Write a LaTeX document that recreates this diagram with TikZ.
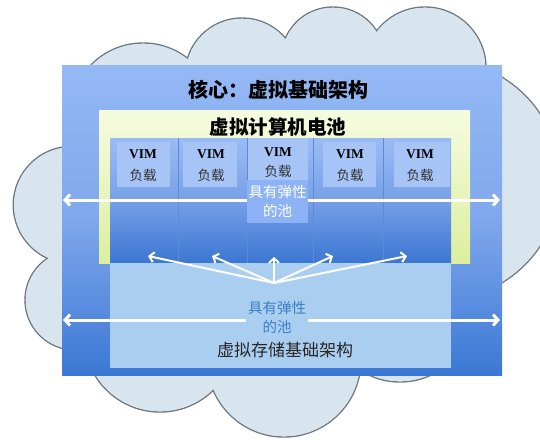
\documentclass[tikz,border=0pt]{standalone}
\usepackage{fontspec}
\setmainfont{Liberation Serif}
\newfontfamily\cjk{Noto Sans CJK SC}
\usetikzlibrary{arrows.meta}
\definecolor{cloudfill}{HTML}{D8E5EF}
\definecolor{cloudline}{HTML}{6E767E}
\definecolor{coretop}{HTML}{95B9F5}
\definecolor{coremid}{HTML}{7FA7EC}
\definecolor{corebot}{HTML}{3B78D4}
\definecolor{yeltop}{HTML}{F6FBE0}
\definecolor{yelbot}{HTML}{DCEF9E}
\definecolor{comptop}{HTML}{9BBBF5}
\definecolor{compmid}{HTML}{77A0E8}
\definecolor{compbot}{HTML}{3C76D1}
\definecolor{vimbox}{HTML}{A6C4F6}
\definecolor{poolbox}{HTML}{8EB2F6}
\definecolor{storfill}{HTML}{AACEEF}
\definecolor{pooltext}{HTML}{3B80C6}
\definecolor{divcol}{HTML}{5F8AD6}
\begin{document}
\begin{tikzpicture}[x=1pt,y=-1pt,
  box/.style={inner sep=0pt, outer sep=0pt, draw=none},
  outerbox/.style={box, top color=coretop, bottom color=corebot, middle color=coremid},
  yelbox/.style={box, top color=yeltop, bottom color=yelbot},
  compbox/.style={box, top color=comptop, bottom color=compbot, middle color=compmid},
  storbox/.style={box, fill=storfill},
  vimbg/.style={box, fill=vimbox},
  vimtxt/.style={font=\bfseries\fontsize{13.5}{15}\selectfont, text=black, inner sep=0pt},
  loadtxt/.style={font=\cjk\fontsize{13.5}{15}\selectfont, text=black!80, inner sep=0pt},
  pooltop/.style={box, fill=poolbox, text=white, align=center, font=\cjk\fontsize{14.5}{19}\selectfont},
  poolbot/.style={box, fill=storfill, text=pooltext, align=center, inner sep=2pt, font=\cjk\fontsize{14.5}{19}\selectfont},
  bigarrow/.style={white, line width=3pt, {Straight Barb[length=5pt,width=11pt]}-{Straight Barb[length=5pt,width=11pt]}},
  fanarrow/.style={white, line width=2pt, -{Straight Barb[length=4.5pt,width=10pt]}},
  divider/.style={divcol, line width=0.8pt},
]
\clip (0,0) rectangle (540,439);
\fill[white] (0,0) rectangle (540,439);
% cloud
\foreach \cx/\cy/\r in {143/115.5/72.5, 242/75/57, 333/59/52, 425/68/61, 440/180/120,
                        72/205/58.7, 75/300/50, 160/336/76, 284/360/77, 400/309.5/72.5}
  \filldraw[draw=cloudline, fill=cloudfill, line width=1.4pt] (\cx,\cy) circle[radius=\r pt];
\foreach \cx/\cy/\r in {143/115.5/72.5, 242/75/57, 333/59/52, 425/68/61, 440/180/120,
                        72/205/58.7, 75/300/50, 160/336/76, 284/360/77, 400/309.5/72.5}
  \fill[cloudfill] (\cx,\cy) circle[radius={\r*1pt-0.7pt}];
% boxes
\node[outerbox, minimum width=440pt, minimum height=310pt] (core) at (282,220) {};
\node[yelbox, minimum width=371pt, minimum height=153pt] (yel) at (284.5,186.5) {};
\node[compbox, minimum width=341pt, minimum height=125pt] (comp) at (280.5,200.5) {};
\node[storbox, minimum width=341pt, minimum height=105pt] (stor) at (280.5,315.5) {};
% column dividers
\foreach \xx in {178,247,313,383}
  \draw[divider] (\xx,138) -- (\xx,263);
% VIM backgrounds
\node[vimbg, minimum width=53pt, minimum height=45pt] (b1) at (143.5,164.5) {};
\node[vimbg, minimum width=54pt, minimum height=45pt] (b2) at (210,164.5) {};
\node[vimbg, minimum width=60pt, minimum height=42pt] (b3) at (277.5,159) {};
\node[vimbg, minimum width=53pt, minimum height=45pt] (b4) at (349.5,164.5) {};
\node[vimbg, minimum width=56pt, minimum height=45pt] (b5) at (421.5,164.5) {};
% titles
\node[font=\cjk\bfseries\fontsize{20}{22}\selectfont, inner sep=0pt] (t1) at (278,90) {核心：虚拟基础架构};
\node[font=\cjk\bfseries\fontsize{19.5}{22}\selectfont, inner sep=0pt] (t2) at (278,127) {虚拟计算机电池};
% VIM labels
\node[vimtxt] (v1) at (143,154) {VIM};
\node[loadtxt] (l1) at (143,175) {负载};
\node[vimtxt] (v2) at (211,154) {VIM};
\node[loadtxt] (l2) at (211,175) {负载};
\node[vimtxt] (v3) at (278,152) {VIM};
\node[loadtxt] (l3) at (278,171) {负载};
\node[vimtxt] (v4) at (350,154) {VIM};
\node[loadtxt] (l4) at (350,175) {负载};
\node[vimtxt] (v5) at (420,154) {VIM};
\node[loadtxt] (l5) at (420,175) {负载};
% upper horizontal arrow
\coordinate (aL) at (63,200);
\coordinate (aR) at (500,200);
\draw[bigarrow] (aL) -- (aR);
\node[pooltop, minimum width=61pt, minimum height=43pt] (pool1) at (277.5,201.5) {具有弹性\\的池};
% fan arrows
\coordinate (fo) at (274,283);
\coordinate (f1) at (148,256);
\coordinate (f2) at (212,256);
\coordinate (f3) at (274,257);
\coordinate (f4) at (333,256);
\coordinate (f5) at (407,256);
\foreach \t in {f1,f2,f3,f4,f5}
  \draw[fanarrow] (fo) -- (\t);
% lower horizontal arrow
\coordinate (bL) at (63,320);
\coordinate (bR) at (500,320);
\draw[bigarrow] (bL) -- (bR);
\node[poolbot] (pool2) at (277,317) {具有弹性\\的池};
\node[font=\cjk\fontsize{17}{19}\selectfont, text=black!85, inner sep=0pt] (st) at (285,350) {虚拟存储基础架构};
\end{tikzpicture}
\end{document}
